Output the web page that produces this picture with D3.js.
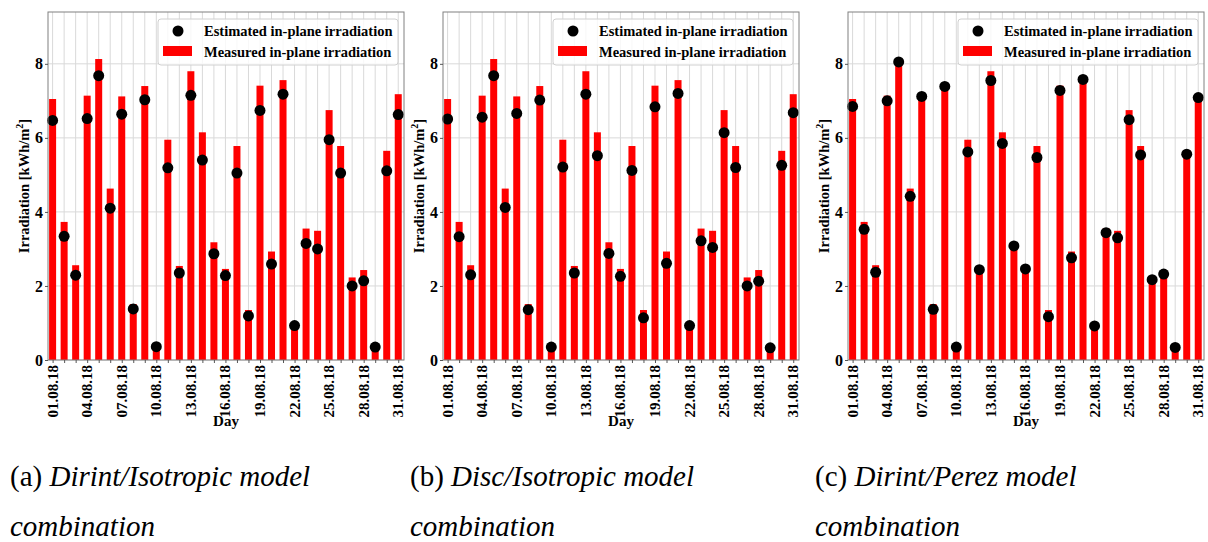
<!DOCTYPE html>
<html>
<head>
<meta charset="utf-8">
<script src="https://cdn.jsdelivr.net/npm/d3@7"></script>
<style>
  body { margin: 0; background: #fff; }
  svg text { font-family: "Liberation Serif", "Times New Roman", serif; }
</style>
</head>
<body>
<div id="chart"></div>
<script>
// daily values, August 2018
var days = d3.range(1, 32);
var dayLabels = days.map(function(d) { return (d < 10 ? "0" + d : "" + d) + ".08.18"; });
var labelledDays = [1, 4, 7, 10, 13, 16, 19, 22, 25, 28, 31];
var yTicks = [0, 2, 4, 6, 8];

var measured = [7.05, 3.73, 2.56, 7.14, 8.13, 4.63, 7.12, 1.51, 7.40, 0.30,
                5.95, 2.54, 7.80, 6.15, 3.18, 2.46, 5.78, 1.35, 7.41, 2.93,
                7.56, 0.90, 3.55, 3.49, 6.75, 5.78, 2.23, 2.43, 0.28, 5.65, 7.18];

var estDirintIso = [6.47, 3.34, 2.29, 6.52, 7.68, 4.10, 6.64, 1.38, 7.03, 0.36,
                    5.19, 2.35, 7.15, 5.40, 2.87, 2.28, 5.05, 1.19, 6.74, 2.59,
                    7.18, 0.93, 3.15, 3.00, 5.95, 5.05, 2.00, 2.14, 0.35, 5.11, 6.63];

var estDiscIso = [6.51, 3.33, 2.30, 6.56, 7.68, 4.12, 6.66, 1.36, 7.02, 0.35,
                  5.21, 2.35, 7.18, 5.52, 2.88, 2.26, 5.12, 1.14, 6.84, 2.61,
                  7.20, 0.93, 3.22, 3.04, 6.14, 5.20, 2.00, 2.13, 0.33, 5.26, 6.68];

var estDirintPerez = [6.85, 3.53, 2.37, 7.00, 8.05, 4.42, 7.12, 1.37, 7.39, 0.35,
                      5.62, 2.44, 7.55, 5.85, 3.08, 2.46, 5.47, 1.17, 7.28, 2.76,
                      7.58, 0.92, 3.44, 3.30, 6.49, 5.54, 2.17, 2.32, 0.34, 5.56, 7.09];

var captionTags = ["(a) ", "(b) ", "(c) "];
var captionNames = ["Dirint/Isotropic model", "Disc/Isotropic model", "Dirint/Perez model"];
var legendLabels = ["Estimated in-plane irradiation", "Measured in-plane irradiation"];

var W = 1208, H = 542;
var panelLeft = [48, 443, 848];
var captionLeft = [10, 410, 815];
var plotW = 356, plotTop = 12, plotBottom = 360;

var svg = d3.select("#chart").append("svg")
    .attr("width", W)
    .attr("height", H);

function drawPanel(i, estimated) {
    var g = svg.append("g")
        .attr("transform", "translate(" + panelLeft[i] + ",0)");

    var x = d3.scaleLinear().domain([0.6, 31.5]).range([0, plotW]);
    var y = d3.scaleLinear().domain([0, 9.4]).range([plotBottom, plotTop]);

    // grid
    g.append("g").selectAll("line.vg")
        .data(days).enter().append("line")
        .attr("x1", function(d) { return x(d); })
        .attr("x2", function(d) { return x(d); })
        .attr("y1", plotTop).attr("y2", plotBottom)
        .attr("stroke", "#d9d9d9").attr("stroke-width", 1);
    g.append("g").selectAll("line.hg")
        .data(yTicks).enter().append("line")
        .attr("x1", 0).attr("x2", plotW)
        .attr("y1", function(d) { return y(d); })
        .attr("y2", function(d) { return y(d); })
        .attr("stroke", "#d9d9d9").attr("stroke-width", 1);

    // bars
    g.append("g").selectAll("rect")
        .data(measured).enter().append("rect")
        .attr("x", function(d, k) { return x(days[k]) - 3.5; })
        .attr("width", 7)
        .attr("y", function(d) { return y(d); })
        .attr("height", function(d) { return y(0) - y(d); })
        .attr("fill", "#ff0000");

    // points
    g.append("g").selectAll("circle")
        .data(estimated).enter().append("circle")
        .attr("cx", function(d, k) { return x(days[k]); })
        .attr("cy", function(d) { return y(d); })
        .attr("r", 5.5)
        .attr("fill", "#000");

    // frame
    g.append("rect")
        .attr("x", 0).attr("y", plotTop)
        .attr("width", plotW).attr("height", plotBottom - plotTop)
        .attr("fill", "none").attr("stroke", "#808080").attr("stroke-width", 1);

    // x axis
    var xAxis = g.append("g")
        .attr("transform", "translate(0," + plotBottom + ")")
        .call(d3.axisBottom(x).tickValues(days).tickSize(3).tickFormat(""));
    xAxis.select(".domain").remove();
    xAxis.selectAll(".tick line").attr("stroke", "#555");
    g.append("g").selectAll("text")
        .data(labelledDays).enter().append("text")
        .attr("transform", function(d) {
            return "translate(" + (x(d) + 5) + "," + (plotBottom + 5) + ") rotate(-90)";
        })
        .attr("text-anchor", "end")
        .attr("font-size", 15).attr("font-weight", "bold")
        .text(function(d) { return dayLabels[d - 1]; });
    g.append("text")
        .attr("x", plotW / 2).attr("y", 426)
        .attr("text-anchor", "middle")
        .attr("font-size", 15).attr("font-weight", "bold")
        .text("Day");

    // y axis
    var yAxis = g.append("g")
        .call(d3.axisLeft(y).tickValues(yTicks).tickSize(3).tickPadding(2).tickFormat(d3.format("d")));
    yAxis.select(".domain").remove();
    yAxis.selectAll(".tick line").attr("stroke", "#555");
    yAxis.selectAll(".tick text")
        .attr("font-family", "Liberation Serif, serif")
        .attr("font-size", 16).attr("font-weight", "bold").attr("fill", "#000");

    var yl = g.append("text")
        .attr("transform", "translate(-19," + ((plotTop + plotBottom) / 2) + ") rotate(-90)")
        .attr("text-anchor", "middle")
        .attr("font-size", 14.5).attr("font-weight", "bold");
    yl.append("tspan").text("Irradiation [kWh/m");
    yl.append("tspan").attr("dy", -6).attr("font-size", 10).text("2");
    yl.append("tspan").attr("dy", 6).text("]");

    // legend
    var lg = g.append("g").attr("transform", "translate(" + (plotW - 246) + ",19)");
    lg.append("rect")
        .attr("width", 240).attr("height", 46).attr("rx", 3)
        .attr("fill", "#fff").attr("fill-opacity", 0.8)
        .attr("stroke", "#d0d0d0");
    lg.append("circle").attr("cx", 20).attr("cy", 12).attr("r", 5.5).attr("fill", "#000");
    lg.append("rect").attr("x", 5).attr("y", 27).attr("width", 29).attr("height", 10).attr("fill", "#ff0000");
    lg.selectAll("text.lt")
        .data(legendLabels).enter().append("text")
        .attr("x", 46)
        .attr("y", function(d, k) { return 17 + k * 21; })
        .attr("font-size", 14.5).attr("font-weight", "bold")
        .text(function(d) { return d; });

    // caption
    var cap = svg.append("text")
        .attr("x", captionLeft[i]).attr("y", 486)
        .attr("font-size", 29);
    cap.append("tspan").text(captionTags[i]);
    cap.append("tspan").attr("font-style", "italic").text(captionNames[i]);
    svg.append("text")
        .attr("x", captionLeft[i]).attr("y", 536)
        .attr("font-size", 29).attr("font-style", "italic")
        .text("combination");
}

drawPanel(0, estDirintIso);
drawPanel(1, estDiscIso);
drawPanel(2, estDirintPerez);
</script>
</body>
</html>
